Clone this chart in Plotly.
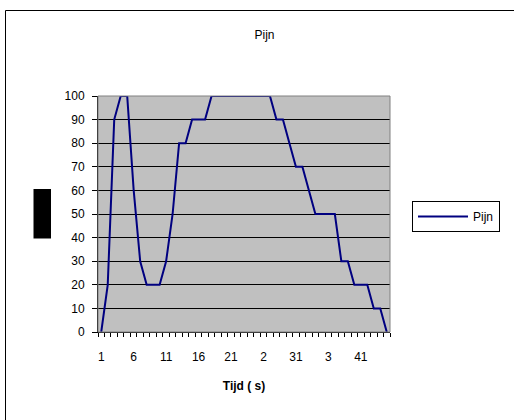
import plotly.graph_objects as go

# Data
tijd = list(range(1, 46))
pijn = [0, 20, 90, 100, 100, 60, 30, 20, 20, 20,
        30, 50, 80, 80, 90, 90, 90, 100, 100, 100,
        100, 100, 100, 100, 100, 100, 100, 90, 90, 80,
        70, 70, 60, 50, 50, 50, 50, 30, 30, 20,
        20, 20, 10, 10, 0]
x_tickvals = [1, 6, 11, 16, 21, 26, 31, 36, 41]
x_ticktext = ["1", "6", "11", "16", "21", "2", "31", "3", "41"]
y_ticks = list(range(0, 101, 10))

FONT = "Liberation Sans, Arial, sans-serif"

W, H = 514, 420
L, R, T, B = 98, 390, 96, 332  # plot area in pixels


def px(x):
    return (x - L) / (R - L)


def py(y):
    return (B - y) / (B - T)


fig = go.Figure()
fig.add_trace(go.Scatter(
    x=tijd, y=pijn, mode="lines", name="Pijn",
    line=dict(color="#000080", width=2),
))

fig.update_layout(
    width=W, height=H,
    margin=dict(l=L, r=W - R, t=T, b=H - B, autoexpand=False),
    paper_bgcolor="white",
    plot_bgcolor="#C0C0C0",
    font=dict(family=FONT, size=11, color="black"),
    title=dict(text="Pijn", x=264.5 / W, xref="container", xanchor="center",
               y=1 - 35 / H, yref="container", yanchor="middle",
               font=dict(size=12, family=FONT, color="black")),
    showlegend=True,
    legend=dict(x=px(412), y=py(201), xanchor="left", yanchor="top",
                xref="paper", yref="paper",
                bordercolor="black", borderwidth=1, bgcolor="white",
                font=dict(size=12, family=FONT, color="black"),
                itemwidth=50, tracegroupgap=0),
    xaxis=dict(
        range=[0.5, 45.5], tickmode="array", tickvals=x_tickvals,
        ticktext=x_ticktext, ticks="", showgrid=False, zeroline=False,
        showline=True, linecolor="black", linewidth=1, mirror=False,
        tickfont=dict(size=12, family=FONT, color="black"),
        ticklabelstandoff=14,
        minor=dict(ticks="outside", ticklen=4, tickcolor="black",
                   tickmode="linear", tick0=0.5, dtick=1, showgrid=False),
        title=dict(text="<b>Tijd ( s)</b>", standoff=18,
                   font=dict(size=12, family=FONT, color="black")),
        automargin=False,
    ),
    yaxis=dict(
        range=[0, 100], tickmode="array", tickvals=y_ticks,
        ticks="outside", ticklen=5, tickcolor="black",
        showgrid=True, gridcolor="black", gridwidth=1, zeroline=False,
        showline=True, linecolor="black", linewidth=1,
        tickfont=dict(size=12, family=FONT, color="black"),
        ticklabelstandoff=5, automargin=False,
    ),
    shapes=[
        # plot area border
        dict(type="rect", xref="paper", yref="paper", x0=0, x1=1, y0=0, y1=1,
             line=dict(color="#808080", width=1), layer="above"),
        # outer chart border
        dict(type="rect", xref="paper", yref="paper",
             x0=px(5.5), x1=px(530), y0=py(430), y1=py(10.5),
             line=dict(color="black", width=1)),
        # black box where the y axis title sits
        dict(type="rect", xref="paper", yref="paper",
             x0=px(33.5), x1=px(51), y0=py(238.5), y1=py(189),
             fillcolor="black", line=dict(width=0)),
    ],
)

fig.write_html(
    "out.html",
    config={"displayModeBar": False},
    post_script="document.body.style.margin='0px';document.body.style.padding='0px';",
)
